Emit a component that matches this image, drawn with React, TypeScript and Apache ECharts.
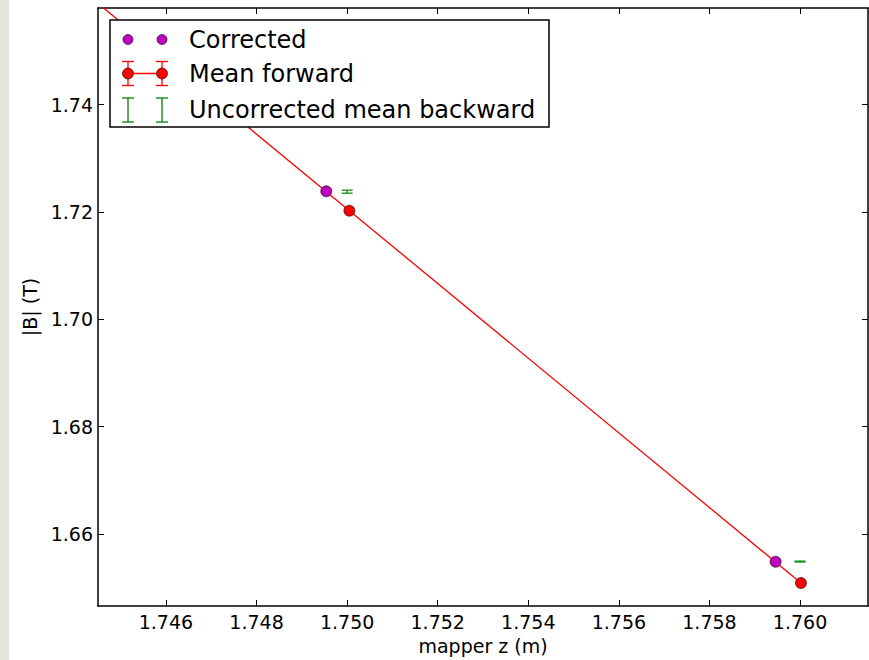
import React, { useEffect, useRef } from "react";
import * as echarts from "echarts";

// Axis ticks and limits
const zTicks = [1.746, 1.748, 1.75, 1.752, 1.754, 1.756, 1.758, 1.76];
const bTicks = [1.66, 1.68, 1.7, 1.72, 1.74];
const zRange = [1.7445, 1.7615];
const bRange = [1.6466, 1.758];

// Corrected measurements
const correctedZ = [1.74954, 1.75946];
const correctedB = [1.72385, 1.65485];

// Mean forward scan (first point lies beyond the plotted window)
const forwardZ = [1.74, 1.75005, 1.76002];
const forwardB = [1.79016, 1.72024, 1.65088];

// Uncorrected mean backward scan with its errors
const backwardZ = [1.75, 1.76];
const backwardB = [1.72378, 1.65488];
const backwardErr = [0.00028, 0.00008];

const seriesNames = ["Corrected", "Mean forward", "Uncorrected mean backward"];

const FONT = "DejaVu Sans";
const PURPLE = "#bf00bf";
const RED = "#ff0000";
const GREEN = "#008000";

function legendGraphic() {
  const left = 110;
  const top = 20;
  const w = 439;
  const h = 107;
  const x1 = 128;
  const x2 = 162;
  const rows = [39.5, 73.5, 110];
  const els: any[] = [
    {
      type: "rect",
      shape: { x: left, y: top, width: w, height: h },
      style: { fill: "#ffffff", stroke: "#000000", lineWidth: 1.5 },
      z: 100,
    },
  ];
  // Corrected: two purple dots
  [x1, x2].forEach((x) =>
    els.push({
      type: "circle",
      shape: { cx: x, cy: rows[0], r: 5 },
      style: { fill: PURPLE, stroke: "#000000", lineWidth: 0.6 },
      z: 101,
    })
  );
  // Mean forward: line + error bars + dots
  els.push({
    type: "line",
    shape: { x1, y1: rows[1], x2, y2: rows[1] },
    style: { stroke: RED, lineWidth: 1.6 },
    z: 101,
  });
  [x1, x2].forEach((x) => {
    els.push({
      type: "line",
      shape: { x1: x, y1: rows[1] - 12, x2: x, y2: rows[1] + 12 },
      style: { stroke: RED, lineWidth: 1.3 },
      z: 101,
    });
    [-12, 12].forEach((d) =>
      els.push({
        type: "line",
        shape: { x1: x - 6, y1: rows[1] + d, x2: x + 6, y2: rows[1] + d },
        style: { stroke: RED, lineWidth: 1.3 },
        z: 101,
      })
    );
    els.push({
      type: "circle",
      shape: { cx: x, cy: rows[1], r: 5.5 },
      style: { fill: RED, stroke: "#000000", lineWidth: 0.6 },
      z: 102,
    });
  });
  // Uncorrected mean backward: green error bars
  [x1, x2].forEach((x) => {
    els.push({
      type: "line",
      shape: { x1: x, y1: rows[2] - 12, x2: x, y2: rows[2] + 12 },
      style: { stroke: GREEN, lineWidth: 1.3 },
      z: 101,
    });
    [-12, 12].forEach((d) =>
      els.push({
        type: "line",
        shape: { x1: x - 6, y1: rows[2] + d, x2: x + 6, y2: rows[2] + d },
        style: { stroke: GREEN, lineWidth: 1.3 },
        z: 101,
      })
    );
  });
  seriesNames.forEach((name, i) =>
    els.push({
      type: "text",
      x: 189,
      y: rows[i],
      style: {
        text: name,
        fill: "#000000",
        font: `24px "${FONT}"`,
        verticalAlign: "middle",
        align: "left",
      },
      z: 101,
    })
  );
  return els;
}

export default function App() {
  const ref = useRef<HTMLDivElement>(null);

  useEffect(() => {
    if (!ref.current) return;
    const chart = echarts.init(ref.current, null, { renderer: "svg" });

    const tickStyle = { show: true, inside: true, length: 6, lineStyle: { color: "#000", width: 1 } };
    const lineStyle = { show: true, onZero: false, lineStyle: { color: "#000", width: 1.5 } };
    const labelStyle = { color: "#000", fontSize: 19, fontFamily: FONT };

    const option: any = {
      animation: false,
      backgroundColor: "#ffffff",
      grid: { left: 98, top: 8, width: 770, height: 599, containLabel: false },
      xAxis: [
        {
          type: "value",
          position: "bottom",
          min: zRange[0],
          max: zRange[1],
          axisLine: lineStyle,
          axisTick: { ...tickStyle, customValues: zTicks },
          axisLabel: {
            ...labelStyle,
            margin: 6,
            customValues: zTicks,
            formatter: (v: number) => v.toFixed(3),
          },
          splitLine: { show: false },
          name: "mapper z (m)",
          nameLocation: "middle",
          nameGap: 30,
          nameTextStyle: { color: "#000", fontSize: 19, fontFamily: FONT },
        },
        {
          type: "value",
          position: "top",
          min: zRange[0],
          max: zRange[1],
          axisLine: lineStyle,
          axisTick: { ...tickStyle, customValues: zTicks },
          axisLabel: { show: false },
          splitLine: { show: false },
        },
      ],
      yAxis: [
        {
          type: "value",
          position: "left",
          min: bRange[0],
          max: bRange[1],
          axisLine: lineStyle,
          axisTick: { ...tickStyle, customValues: bTicks },
          axisLabel: {
            ...labelStyle,
            margin: 5,
            customValues: bTicks,
            formatter: (v: number) => v.toFixed(2),
          },
          splitLine: { show: false },
          name: "|B| (T)",
          nameLocation: "middle",
          nameGap: 58,
          nameRotate: 90,
          nameTextStyle: { color: "#000", fontSize: 19, fontFamily: FONT },
        },
        {
          type: "value",
          position: "right",
          min: bRange[0],
          max: bRange[1],
          axisLine: lineStyle,
          axisTick: { ...tickStyle, customValues: bTicks },
          axisLabel: { show: false },
          splitLine: { show: false },
        },
      ],
      series: [
        {
          name: seriesNames[1],
          type: "line",
          xAxisIndex: 0,
          yAxisIndex: 0,
          data: forwardZ.map((z, i) => [z, forwardB[i]]),
          clip: true,
          symbol: "circle",
          symbolSize: 11,
          showSymbol: true,
          lineStyle: { color: RED, width: 1.3 },
          itemStyle: { color: RED, borderColor: "#000", borderWidth: 0.6 },
          z: 2,
        },
        {
          name: seriesNames[0],
          type: "scatter",
          xAxisIndex: 0,
          yAxisIndex: 0,
          data: correctedZ.map((z, i) => [z, correctedB[i]]),
          symbol: "circle",
          symbolSize: 11,
          itemStyle: { color: PURPLE, borderColor: "#000", borderWidth: 0.6, opacity: 1 },
          z: 3,
        },
        {
          name: seriesNames[2],
          type: "custom",
          xAxisIndex: 0,
          yAxisIndex: 0,
          data: backwardZ.map((z, i) => [z, backwardB[i], backwardErr[i]]),
          renderItem: (params: any, api: any) => {
            const z = api.value(0);
            const b = api.value(1);
            const e = api.value(2);
            const hi = api.coord([z, b + e]);
            const lo = api.coord([z, b - e]);
            const cap = 5.5;
            const style = { stroke: GREEN, lineWidth: 1.2 };
            return {
              type: "group",
              children: [
                { type: "line", shape: { x1: hi[0], y1: hi[1], x2: lo[0], y2: lo[1] }, style },
                { type: "line", shape: { x1: hi[0] - cap, y1: hi[1], x2: hi[0] + cap, y2: hi[1] }, style },
                { type: "line", shape: { x1: lo[0] - cap, y1: lo[1], x2: lo[0] + cap, y2: lo[1] }, style },
              ],
            };
          },
          z: 4,
        },
      ],
      graphic: [
        {
          type: "rect",
          shape: { x: 0, y: 0, width: 9, height: 660 },
          style: { fill: "#e5e5e0" },
          z: 0,
        },
        ...legendGraphic(),
      ],
    };

    chart.setOption(option);
    return () => chart.dispose();
  }, []);

  return (
    <div
      ref={ref}
      style={{ position: "fixed", left: 0, top: 0, width: 869, height: 660, background: "#fff" }}
    />
  );
}
